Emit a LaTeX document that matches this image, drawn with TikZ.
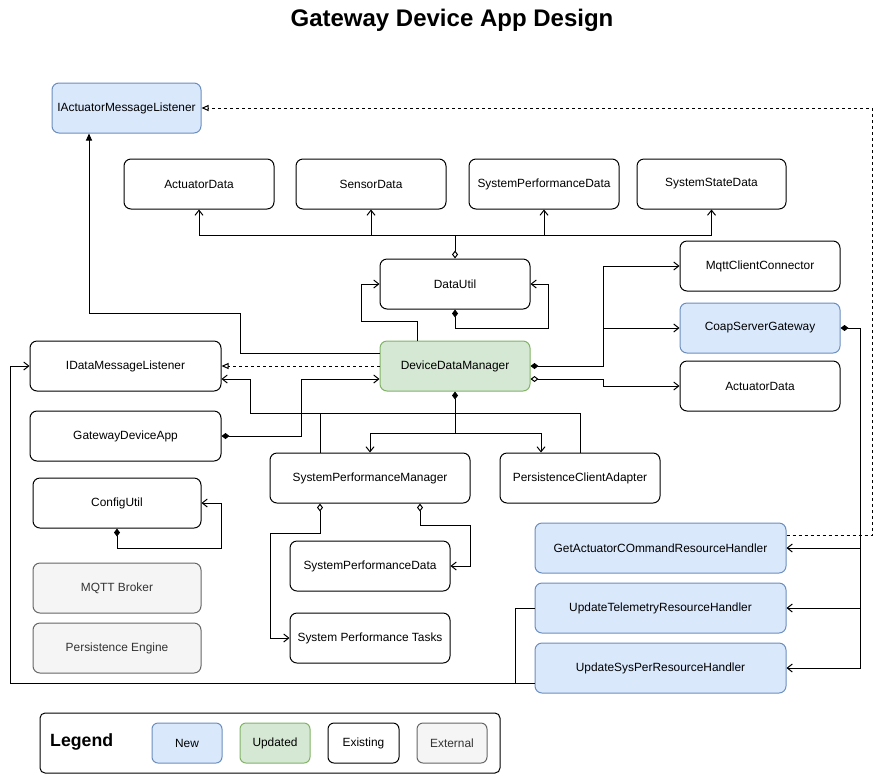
\documentclass[tikz,border=0pt]{standalone}
\usepackage{fontspec}
\setmainfont{Liberation Sans}
\usetikzlibrary{arrows.meta}
\definecolor{newfill}{HTML}{DAE8FC}
\definecolor{newline}{HTML}{6C8EBF}
\definecolor{updfill}{HTML}{D5E8D4}
\definecolor{updline}{HTML}{82B366}
\definecolor{extfill}{HTML}{F5F5F5}
\definecolor{extline}{HTML}{666666}
\definecolor{exttext}{HTML}{333333}
\tikzset{
  fdia/.tip={Diamond[length=8pt,width=6pt]},
  odia/.tip={Diamond[open,length=8pt,width=6pt]},
  barb/.tip={Straight Barb[length=5pt,width=8pt]},
  otri/.tip={Triangle[open,length=7pt,width=6pt]},
  ftri/.tip={Triangle[length=7pt,width=6pt]},
  box/.style={draw, rounded corners=7pt, minimum height=50pt, inner sep=0pt, line width=1pt,
    font=\fontsize{11.9}{13}\selectfont},
  newbox/.style={box, fill=newfill, draw=newline},
  updbox/.style={box, fill=updfill, draw=updline},
  extbox/.style={box, fill=extfill, draw=extline, text=exttext},
  conn/.style={line width=1pt},
  dsh/.style={conn, dash pattern=on 3pt off 3pt},
}
\begin{document}
\begin{tikzpicture}[x=1pt,y=-1pt]
\fill[white] (0,0) rectangle (882,777);
\useasboundingbox (0,0) rectangle (882,777);

\node[font=\bfseries\fontsize{24}{28}\selectfont] (title) at (452,20) {Gateway Device App Design};

% nodes
\node[newbox, minimum width=149pt] (iaml) at (126.5,108) {IActuatorMessageListener};
\node[box, minimum width=150pt] (ad1) at (199,184) {ActuatorData};
\node[box, minimum width=150pt] (sd) at (371,184) {SensorData};
\node[box, minimum width=150pt] (spd1) at (544,184) {SystemPerformanceData};
\node[box, minimum width=149pt] (ssd) at (711.5,184) {SystemStateData};
\node[box, minimum width=150pt] (du) at (455,284) {DataUtil};
\node[box, minimum width=160pt] (mqtt) at (760,266) {MqttClientConnector};
\node[newbox, minimum width=160pt] (coap) at (760,328) {CoapServerGateway};
\node[box, minimum width=160pt] (ad2) at (760,386) {ActuatorData};
\node[box, minimum width=191pt] (idml) at (125.5,366) {IDataMessageListener};
\node[updbox, minimum width=150pt] (ddm) at (455,366) {DeviceDataManager};
\node[box, minimum width=191pt] (gda) at (125.5,436) {GatewayDeviceApp};
\node[box, minimum width=200pt] (spm) at (370,478) {SystemPerformanceManager};
\node[box, minimum width=160pt] (pca) at (580,478) {PersistenceClientAdapter};
\node[box, minimum width=168pt] (cu) at (117,503) {ConfigUtil};
\node[box, minimum width=160pt] (spd2) at (370,566) {SystemPerformanceData};
\node[box, minimum width=160pt] (spt) at (370,638) {System Performance Tasks};
\node[extbox, minimum width=168pt] (mqttb) at (117,588) {MQTT Broker};
\node[extbox, minimum width=168pt] (pe) at (117,648) {Persistence Engine};
\node[newbox, minimum width=251pt] (gacrh) at (660.5,548) {GetActuatorCOmmandResourceHandler};
\node[newbox, minimum width=251pt] (utrh) at (660.5,608) {UpdateTelemetryResourceHandler};
\node[newbox, minimum width=251pt] (usprh) at (660.5,668) {UpdateSysPerResourceHandler};

% legend
\node[draw, line width=1pt, rounded corners=5pt, minimum width=460pt, minimum height=60pt] (legend) at (270,743) {};
\node[font=\bfseries\fontsize{17.7}{20}\selectfont, anchor=west, inner sep=0pt] (legtitle) at (50,742) {Legend};
\node[newbox, rounded corners=6pt, minimum width=70pt, minimum height=40pt] (lnew) at (187,743) {New};
\node[updbox, rounded corners=6pt, minimum width=70pt, minimum height=40pt] (lupd) at (275,743) {Updated};
\node[box, rounded corners=6pt, minimum width=71pt, minimum height=40pt] (lexi) at (363.5,743) {Existing};
\node[extbox, rounded corners=6pt, minimum width=70pt, minimum height=40pt] (lext) at (452,743) {External};

% DataUtil -> data classes
\draw[conn, odia-] (du.north) -- (455,235) coordinate (bus);
\draw[conn] (ad1.south |- bus) -- (ssd.south |- bus);
\draw[conn, -barb] (ad1.south |- bus) -- (ad1.south);
\draw[conn, -barb] (sd.south |- bus) -- (sd.south);
\draw[conn, -barb] (spd1.south |- bus) -- (spd1.south);
\draw[conn, -barb] (ssd.south |- bus) -- (ssd.south);

% DeviceDataManager -> DataUtil
\draw[conn, -barb] ([xshift=-38pt]ddm.north) -- (417,321) -| (361,284) -- (du.west);
% DataUtil self
\draw[conn, fdia-barb] (du.south) -- (455,328) -| (548,284) -- (du.east);

% DDM -> IActuatorMessageListener
\draw[conn, -ftri] ([yshift=13pt]ddm.west) -| (240,313) -| ([xshift=-37.5pt]iaml.south);
% DDM realizes IDataMessageListener
\draw[dsh, -otri] (ddm.west) -- (idml.east);
% SPM/PCA -> IDataMessageListener
\draw[conn, -barb] ([xshift=-50pt]spm.north) |- (250,413) |- ([yshift=-13pt]idml.east);
\draw[conn] (pca.north) |- (320,413);
% GatewayDeviceApp -> DDM
\draw[conn, fdia-barb] (gda.east) -| (301,379) -- ([yshift=-13pt]ddm.west);
% DDM -> SPM, PCA
\draw[conn, fdia-barb] (ddm.south) -- (455,433) -| (spm.north);
\draw[conn, -barb] (455,433) -| ([xshift=-39pt]pca.north);
% DDM -> Mqtt, Coap
\draw[conn, fdia-barb] (ddm.east) -| (603,266) -- (mqtt.west);
\draw[conn, -barb] (603,328) -- (coap.west);
% DDM -> ActuatorData
\draw[conn, odia-barb] ([yshift=-13pt]ddm.east) -| (603,386) -- (ad2.west);
% Coap -> handlers
\draw[conn, fdia-barb] (coap.east) -| (860,668) -- (usprh.east);
\draw[conn, -barb] (860,548) -- (gacrh.east);
\draw[conn, -barb] (860,608) -- (utrh.east);
% GetActuator realizes IActuatorMessageListener
\draw[dsh, -otri] ([yshift=13pt]gacrh.east) -| (872,108) -- (iaml.east);
% handlers -> IDataMessageListener
\draw[conn, -barb] (utrh.west) -| (515,683) -| (10,366) -- (idml.west);
\draw[conn] ([yshift=-15pt]usprh.west) -- (515,683);
% ConfigUtil self
\draw[conn, fdia-barb] (cu.south) -- (117,548) -| (221,503) -- (cu.east);
% SPM -> tasks, data
\draw[conn, odia-barb] ([xshift=-50pt]spm.south) -- (320,533) -| (270,638) -- (spt.west);
\draw[conn, odia-barb] ([xshift=50pt]spm.south) -- (420,525) -| (470,566) -- (spd2.east);
\end{tikzpicture}
\end{document}
